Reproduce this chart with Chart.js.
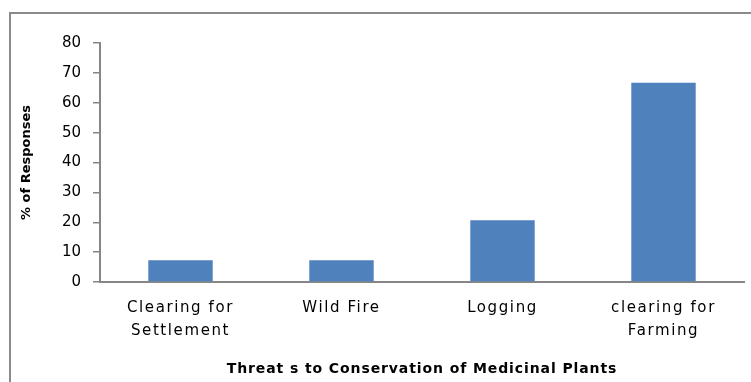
<!DOCTYPE html>
<html lang="en">
<head>
    <meta charset="UTF-8">
    <title>Threats to Conservation of Medicinal Plants</title>
    <style>
        body {
            margin: 0;
            padding: 0;
            background-color: #ffffff;
            overflow: hidden;
        }

        .wrap {
            position: relative;
            width: 751px;
            height: 382px;
        }

        /* chart frame, cut off at the right and bottom edges */
        .frame {
            position: absolute;
            left: 9px;
            top: 12px;
            width: 800px;
            height: 420px;
            border: 2px solid #8a8a8a;
        }

        canvas {
            position: absolute;
            left: 0;
            top: 0;
        }
    </style>
</head>
<body>
    <div class="wrap">
        <div class="frame"></div>
        <canvas id="threatChart" width="751" height="382"></canvas>
    </div>
    <script src="https://cdn.jsdelivr.net/npm/chart.js"></script>
    <script>
    const categories = [
        ['Clearing for', 'Settlement'],
        'Wild Fire',
        'Logging',
        ['clearing for', 'Farming']
    ];
    const responses = [7.3, 7.3, 20.7, 66.7];
    const yTicks = [0, 10, 20, 30, 40, 50, 60, 70, 80];

    const axisColor = '#868686';
    const barColor = '#4f81bd';

    // the original labels are spaced out wider than any installed font,
    // so give the x axis text some letter spacing
    const spacedXAxis = {
        id: 'spacedXAxis',
        afterLayout: function(chart) {
            const scale = chart.scales.x;
            if (scale._spaced) return;
            const drawLabels = scale.drawLabels;
            const drawTitle = scale.drawTitle;
            scale.drawLabels = function(area) {
                this.ctx.save();
                this.ctx.letterSpacing = '1.6px';
                drawLabels.call(this, area);
                this.ctx.restore();
            };
            scale.drawTitle = function() {
                this.ctx.save();
                this.ctx.letterSpacing = '0.9px';
                drawTitle.call(this);
                this.ctx.restore();
            };
            scale._spaced = true;
        }
    };

    document.addEventListener('DOMContentLoaded', function() {
        const ctx = document.getElementById('threatChart').getContext('2d');

        new Chart(ctx, {
            type: 'bar',
            data: {
                labels: categories,
                datasets: [{
                    data: responses,
                    backgroundColor: barColor,
                    barPercentage: 0.4,
                    categoryPercentage: 1.0
                }]
            },
            plugins: [spacedXAxis],
            options: {
                responsive: false,
                animation: false,
                layout: {
                    padding: { left: 0, right: 7, top: 43, bottom: 0 }
                },
                plugins: {
                    legend: { display: false },
                    tooltip: { enabled: false }
                },
                scales: {
                    x: {
                        grid: {
                            display: true,
                            drawOnChartArea: false,
                            drawTicks: false
                        },
                        border: { color: axisColor, width: 2 },
                        ticks: {
                            color: '#000000',
                            padding: 15,
                            maxRotation: 0,
                            font: { family: 'DejaVu Sans', size: 15, lineHeight: 1.5 }
                        },
                        title: {
                            display: true,
                            text: 'Threat s to Conservation of Medicinal Plants',
                            color: '#000000',
                            padding: { top: 0, bottom: 4 },
                            font: { family: 'DejaVu Sans', size: 14, weight: 'bold' }
                        },
                        afterFit: function(scale) {
                            scale.height = 100;
                        }
                    },
                    y: {
                        min: 0,
                        max: 80,
                        afterBuildTicks: function(scale) {
                            scale.ticks = yTicks.map(v => ({ value: v }));
                        },
                        grid: {
                            drawOnChartArea: false,
                            tickLength: 7,
                            lineWidth: 1.5,
                            color: axisColor
                        },
                        border: { color: axisColor, width: 2 },
                        ticks: {
                            color: '#000000',
                            padding: 12,
                            font: { family: 'DejaVu Sans', size: 15 }
                        },
                        title: {
                            display: true,
                            text: '% of Responses',
                            color: '#000000',
                            padding: { top: 19, bottom: 0 },
                            font: { family: 'DejaVu Sans', size: 13, weight: 'bold' }
                        },
                        afterFit: function(scale) {
                            scale.width = 100;
                        }
                    }
                }
            }
        });
    });
    </script>
</body>
</html>
